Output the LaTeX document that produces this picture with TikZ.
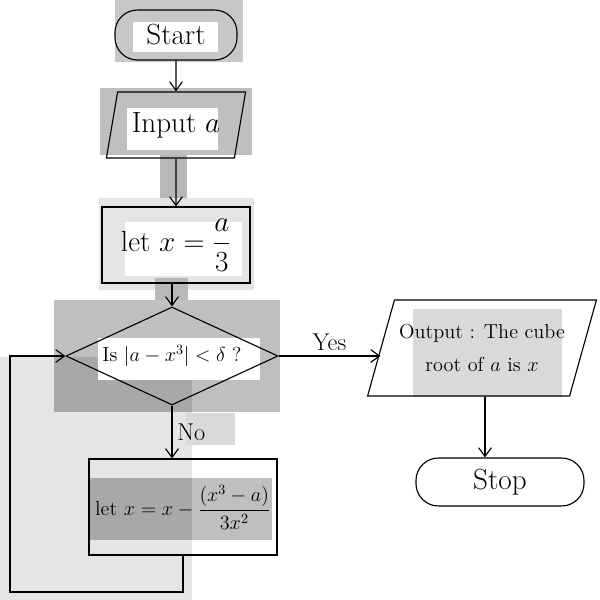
\documentclass[tikz,border=0pt]{standalone}
\usepackage{amsmath}
\usetikzlibrary{shapes.geometric,arrows.meta}

\tikzset{
  flow/.style={draw, line width=0.8pt, align=center, font=\Large},
  terminal/.style={flow, rounded corners=16pt, minimum height=1.25cm, font=\huge},
  io/.style={flow, trapezium, trapezium stretches=true},
  process/.style={flow, rectangle},
  decision/.style={flow, diamond, inner sep=0pt},
  link/.style={line width=0.8pt, -{Straight Barb[length=2.2mm,width=3.2mm]}}
}

\begin{document}
\begin{tikzpicture}[x=0.025cm, y=-0.025cm]
  \useasboundingbox (0,0) rectangle (600,600);
  % shaded patches
  \foreach \xa/\ya/\xb/\yb/\c in {0/357/192/600/black!10, 115/0/243/62/black!22,
      100/88/252/155/black!25, 160/155/187/202/black!28, 99/198/254/290/black!10,
      155/278/188/325/black!28, 54/300/280/412/black!25, 54/357/192/412/black!34,
      186/413/235/445/black!15, 90/478/192/540/black!34, 192/478/272/540/black!25,
      413/309/562/397/black!15}
    {\fill[\c] (\xa,\ya) rectangle (\xb,\yb);}
  \foreach \xa/\ya/\xb/\yb in {133/22/218/52, 127/108/218/150, 125/222/242/276, 98/338/260/380}
    {\fill[white] (\xa,\ya) rectangle (\xb,\yb);}

  \node[terminal, minimum width=3.05cm] (start) at (176,35) {Start};
  \node[io, trapezium left angle=75, trapezium right angle=105,
        minimum width=3.5cm, minimum height=1.65cm, font=\huge] (input) at (176,125) {Input $a$};
  \node[process, minimum width=3.7cm, minimum height=1.9cm, font=\huge] (init) at (176,245)
    {let $x=\dfrac{a}{3}$};
  \node[decision, minimum width=5.3cm, minimum height=2.45cm, shape aspect=2.2] (test) at (172,356)
    {Is $|a-x^3|<\delta$ ?};
  \node[io, trapezium left angle=65, trapezium right angle=115,
        minimum width=5.6cm, minimum height=2.4cm] (output) at (482,348)
    {Output : The cube\\[6pt]root of $a$ is $x$};
  \node[terminal, minimum width=4.2cm, minimum height=1.2cm] (stop) at (500,482) {Stop};
  \node[process, minimum width=4.7cm, minimum height=2.4cm] (update) at (183,507)
    {let $x=x-\dfrac{(x^3-a)}{3x^2}$};
  \coordinate (corner) at (10,592);

  \draw[link] (start) -- (input);
  \draw[link] (input) -- (init);
  \draw[link] (init.south -| test.north) -- (test.north);
  \draw[link] (test.east) -- node[above, font=\LARGE] (yes) {Yes} (test.east -| output.west);
  \draw[link] (output.south -| 485,0) -- (stop.north -| 485,0);
  \draw[link] (test.south) -- node[right, font=\LARGE] (no) {No} (test.south |- update.north);
  \draw[link] (update.south) |- (corner) |- (test.west);
\end{tikzpicture}
\end{document}
